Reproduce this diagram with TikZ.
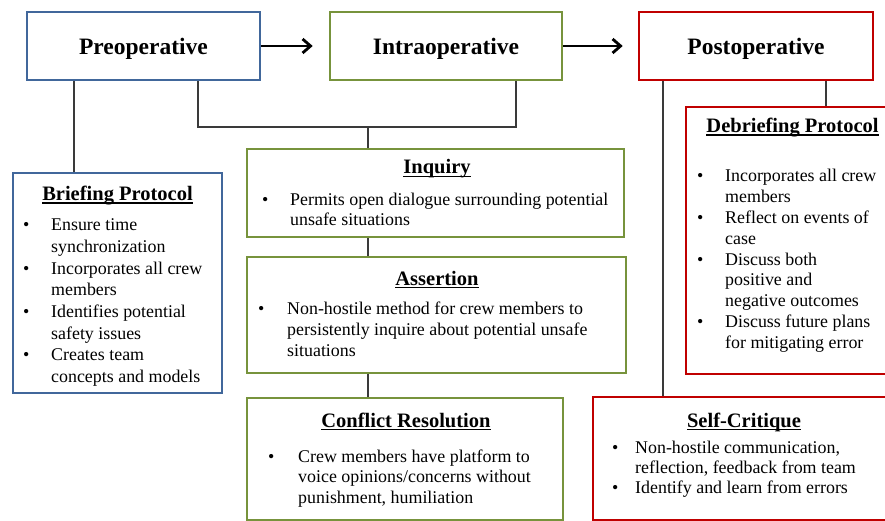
\documentclass[tikz,border=0pt]{standalone}
\usepackage{fontspec}
\setmainfont{Liberation Serif}
\usetikzlibrary{arrows.meta}
\definecolor{bblue}{HTML}{41679B}
\definecolor{bgreen}{HTML}{77933C}
\definecolor{bred}{HTML}{C00000}
\definecolor{conncol}{HTML}{3A3A3A}
\newlength\bind
\newsavebox\hdbox
\newcommand\bitem[1]{\par\noindent\hangindent=\bind\hangafter=1\makebox[\bind][l]{\textbullet}#1\par}
\newcommand\bodytext[4]{\parbox[t]{#1}{\fontsize{17.9}{#2}\selectfont\raggedright\setlength\bind{#3}#4}}
\newcommand\hd[1]{\sbox\hdbox{#1}\rlap{\usebox\hdbox}\rule[-3.2pt]{\wd\hdbox}{1.3pt}}
\tikzset{
  box/.style={draw, line width=2.6pt, fill=white, inner sep=0pt},
  bluebox/.style={box, draw=bblue},
  greenbox/.style={box, draw=bgreen},
  redbox/.style={box, draw=bred},
  titlefont/.style={font=\fontsize{23.5}{28}\selectfont\bfseries, text depth=0pt},
  head/.style={font=\fontsize{20.5}{24}\selectfont\bfseries, inner sep=0pt, anchor=base},
  body/.style={inner sep=0pt, anchor=base west, align=left},
  conn/.style={draw=conncol, line width=1.3pt},
  bigarrow/.style={line width=2.8pt, -{Straight Barb[length=8pt,width=14pt,line width=2.8pt]}}
}
\begin{document}
\begin{tikzpicture}[x=1pt,y=-1pt]
\useasboundingbox (0,0) rectangle (885,521);
% connector x positions
\coordinate (xa) at (74,0);
\coordinate (xb) at (198,0);
\coordinate (xc) at (516,0);
\coordinate (j) at (368,127);
\coordinate (jr) at (516,127);
\coordinate (xd) at (663,0);
\coordinate (xe) at (826,0);

% top boxes
\node[bluebox, minimum width=233pt, minimum height=68pt, titlefont] (pre) at (143.5,46) {Preoperative};
\node[greenbox, minimum width=232pt, minimum height=68pt, titlefont] (intra) at (446,46) {Intraoperative};
\node[redbox, minimum width=234pt, minimum height=68pt, titlefont] (post) at (756,46) {Postoperative};

% sub boxes
\node[bluebox, minimum width=209pt, minimum height=220pt] (brief) at (117.5,283) {};
\node[greenbox, minimum width=377pt, minimum height=88pt] (inq) at (435.5,193) {};
\node[greenbox, minimum width=379pt, minimum height=116pt] (ass) at (436.5,315) {};
\node[greenbox, minimum width=316pt, minimum height=122pt] (conf) at (405,459) {};
\node[redbox, minimum width=204pt, minimum height=267pt] (deb) at (788,240.5) {};
\node[redbox, minimum width=298pt, minimum height=123pt] (self) at (742,458.5) {};

% arrows
\draw[bigarrow] (pre.east) -- ([xshift=-16pt]intra.west);
\draw[bigarrow] (intra.east) -- ([xshift=-15pt]post.west);

% connectors
\draw[conn] (pre.south -| xa) -- (brief.north -| xa);
\draw[conn] (pre.south -| xb) |- (jr) -- (intra.south -| xc);
\draw[conn] (j) -- (inq.north -| j);
\draw[conn] (inq.south -| j) -- (ass.north -| j);
\draw[conn] (ass.south -| j) -- (conf.north -| j);
\draw[conn] (post.south -| xd) -- (self.north -| xd);
\draw[conn] (post.south -| xe) -- (deb.north -| xe);

% headings
\node[head] (briefh) at (117.5,200.5) {\hd{Briefing Protocol}};
\node[head] (inqh) at (437,174) {\hd{Inquiry}};
\node[head] (assh) at (437,285) {\hd{Assertion}};
\node[head] (confh) at (406,427) {\hd{Conflict Resolution}};
\node[head] (debh) at (792.5,132.5) {\hd{Debriefing Protocol}};
\node[head] (selfh) at (744,427) {\hd{Self-Critique}};

% bodies
\node[body] (briefb) at (23,231) {\bodytext{200pt}{21.6}{28pt}{%
\bitem{Ensure time\newline synchronization}
\bitem{Incorporates all crew\newline members}
\bitem{Identifies potential\newline safety issues}
\bitem{Creates team\newline concepts and models}}};
\node[body] (inqb) at (262,206) {\bodytext{370pt}{20}{28pt}{%
\bitem{Permits open dialogue surrounding potential\newline unsafe situations}}};
\node[body] (assb) at (258,314) {\bodytext{370pt}{21.2}{29pt}{%
\bitem{Non-hostile method for crew members to\newline persistently inquire about potential unsafe\newline situations}}};
\node[body] (confb) at (268,462) {\bodytext{300pt}{20.5}{30pt}{%
\bitem{Crew members have platform to\newline voice opinions/concerns without\newline punishment, humiliation}}};
\node[body] (debb) at (697,182) {\bodytext{200pt}{20.8}{28pt}{%
\bitem{Incorporates all crew\newline members}
\bitem{Reflect on events of\newline case}
\bitem{Discuss both\newline positive and\newline negative outcomes}
\bitem{Discuss future plans\newline for mitigating error}}};
\node[body] (selfb) at (612,453) {\bodytext{280pt}{20}{23pt}{%
\bitem{Non-hostile communication,\newline reflection, feedback from team}
\bitem{Identify and learn from errors}}};
\end{tikzpicture}
\end{document}
